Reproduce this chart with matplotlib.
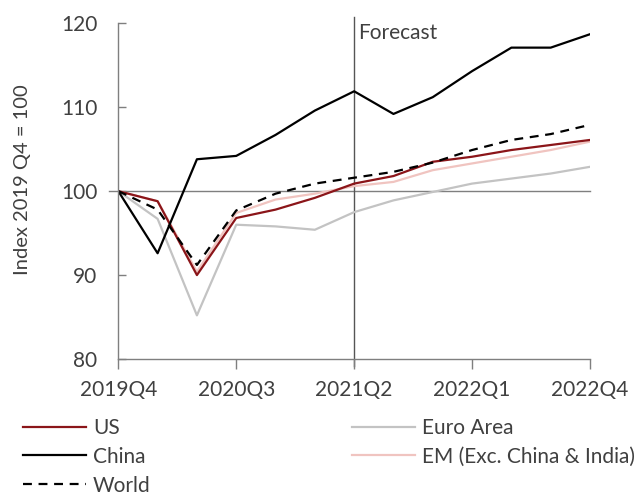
import matplotlib
matplotlib.use("Agg")
import matplotlib.pyplot as plt

plt.rcParams['font.family'] = ['Lato', 'DejaVu Sans']

quarters = ["2019Q4", "2020Q1", "2020Q2", "2020Q3", "2020Q4", "2021Q1", "2021Q2",
            "2021Q3", "2021Q4", "2022Q1", "2022Q2", "2022Q3", "2022Q4"]
us = [100, 98.8, 90.0, 96.8, 97.8, 99.2, 100.9, 101.8, 103.5, 104.1, 104.9, 105.5, 106.1]
china = [100, 92.6, 103.8, 104.2, 106.7, 109.6, 111.9, 109.2, 111.2, 114.3, 117.1, 117.1, 118.7]
world = [100, 97.8, 91.2, 97.7, 99.7, 100.9, 101.6, 102.3, 103.4, 104.9, 106.1, 106.8, 107.9]
euro = [100, 96.7, 85.2, 96.0, 95.8, 95.4, 97.5, 98.9, 99.9, 100.9, 101.5, 102.1, 102.9]
em = [100, 98.8, 90.4, 97.4, 99.0, 99.7, 100.6, 101.1, 102.5, 103.3, 104.1, 104.9, 105.9]
tick_labels = ["2019Q4", "2020Q3", "2021Q2", "2022Q1", "2022Q4"]

text_color = "#404040"
axis_color = "#7f7f7f"

fig = plt.figure(figsize=(6.43, 4.95), dpi=100)
ax = fig.add_axes([118.3 / 643, 1 - 359 / 495, (590 - 118.3) / 643, (359 - 23.3) / 495])

x = list(range(len(quarters)))
l_euro, = ax.plot(x, euro, color="#c3c3c3", lw=1.6, label="Euro Area")
l_em, = ax.plot(x, em, color="#f0c4c0", lw=1.6, label="EM (Exc. China & India)")
l_us, = ax.plot(x, us, color="#8b1519", lw=1.6, label="US")
l_china, = ax.plot(x, china, color="black", lw=1.6, label="China")
l_world, = ax.plot(x, world, color="black", lw=1.6, ls=(0, (4, 3)), label="World")

ax.set_xlim(0, 12)
ax.set_ylim(80, 120)
ax.set_yticks([80, 90, 100, 110, 120])
ax.set_xticks([quarters.index(t) for t in tick_labels])
ax.set_xticklabels(tick_labels)

ax.axhline(100, color=axis_color, lw=1.0, zorder=1, xmin=-0.02, clip_on=False)
ax.axvline(quarters.index("2021Q2"), color="#555555", lw=1.0, ymin=-0.02, ymax=1.02,
           clip_on=False, zorder=1)
ax.text(6.1, 118.8, "Forecast", color=text_color, fontsize=15, va="center", ha="left")

for s in ["top", "right"]:
    ax.spines[s].set_visible(False)
for s in ["left", "bottom"]:
    ax.spines[s].set_color(axis_color)
    ax.spines[s].set_linewidth(1.0)

ax.tick_params(axis="y", direction="in", length=6, width=1, color=axis_color,
               labelsize=15, labelcolor=text_color, pad=15)
ax.tick_params(axis="x", direction="out", length=7, width=1, color=axis_color,
               labelsize=15, labelcolor=text_color, pad=8)

fig.text(23 / 643, 1 - 180 / 495, "Index 2019 Q4 = 100", rotation=90, ha="center",
         va="center", fontsize=14.5, color=text_color)

legend_kw = dict(frameon=False, fontsize=15, handlelength=3.0, handletextpad=0.35,
                 labelspacing=0.42, borderpad=0, borderaxespad=0, loc="upper left",
                 labelcolor=text_color)
leg1 = fig.legend(handles=[l_us, l_china, l_world], bbox_to_anchor=(23 / 643, 1 - 418 / 495),
                  **legend_kw)
leg2 = fig.legend(handles=[l_euro, l_em], bbox_to_anchor=(352 / 643, 1 - 418 / 495),
                  **legend_kw)

fig.savefig("out.png", dpi=100)
